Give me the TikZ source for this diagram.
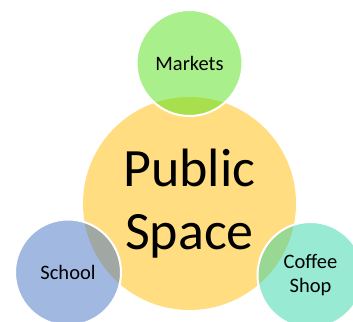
\documentclass[tikz,border=0pt]{standalone}
\usepackage{fontspec}
\setmainfont{Carlito}
\definecolor{hubyellow}{HTML}{FFDD80}
\definecolor{mktgreen}{RGB}{83,225,25}
\definecolor{schoolblue}{HTML}{4472C4}
\definecolor{coffeeteal}{RGB}{51,213,165}
\begin{document}
\begin{tikzpicture}[x=1pt,y=-1pt,
  hub/.style={circle,fill=hubyellow,minimum size=213pt,inner sep=0pt,align=center,
    font=\fontsize{54}{63}\selectfont},
  sat/.style={circle,fill opacity=0.5,text opacity=1,draw=white,draw opacity=1,line width=2pt,
    minimum size=106pt,inner sep=0pt,align=center,font=\fontsize{20.5}{24.5}\selectfont}]
\useasboundingbox (0,0) rectangle (353,321);
\node[hub] (hub) at (189.5,203.5) {Public\\Space};
\node[sat,fill=mktgreen] (markets) at (189.5,63) {Markets};
\node[sat,fill=schoolblue] (school) at (68,272.5) {School};
\node[sat,fill=coffeeteal] (coffee) at (310.5,275) {Coffee\\Shop};
\end{tikzpicture}
\end{document}
